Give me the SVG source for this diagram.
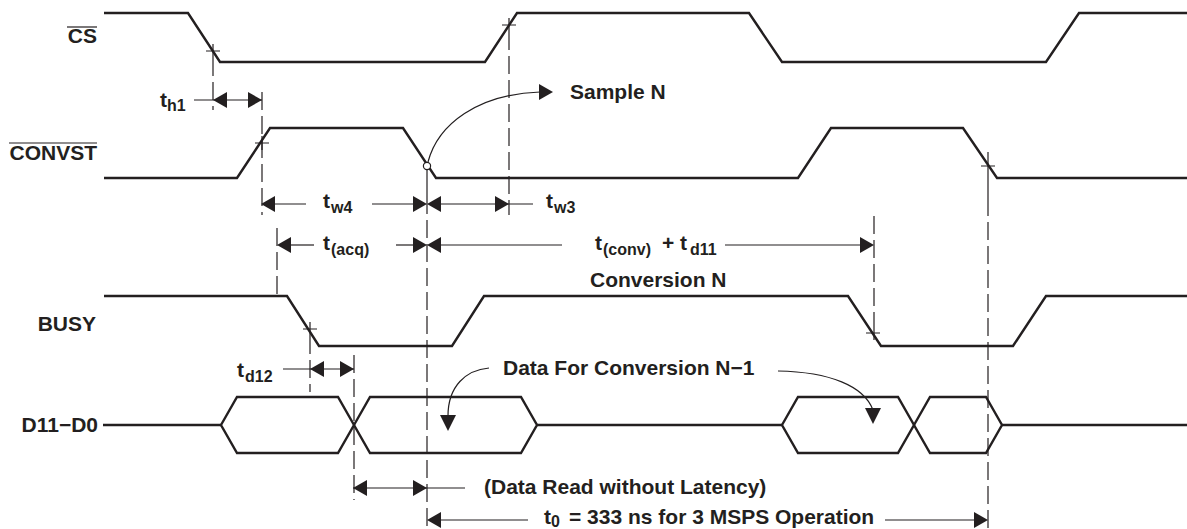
<svg xmlns="http://www.w3.org/2000/svg" xmlns:xlink="http://www.w3.org/1999/xlink" width="1187" height="529" viewBox="0 0 1187 529">
<style>
.sig{fill:none;stroke:#231f20;stroke-width:2.4;stroke-linejoin:miter}
.hex{fill:none;stroke:#231f20;stroke-width:2.4;stroke-linejoin:miter}
.thin{fill:none;stroke:#231f20;stroke-width:1.2}
.dash{fill:none;stroke:#231f20;stroke-width:1.2;stroke-dasharray:18 6}
.ah{fill:#231f20}
text{font-family:"Liberation Sans",Arial,sans-serif;font-weight:bold;fill:#231f20}
.lbl{font-size:21px}
.sub{font-size:16px}
</style>
<defs>
<path id="ahR" class="ah" d="M0,0 L-14,-8 L-14,8 Z"/>
<path id="ahL" class="ah" d="M0,0 L14,-8 L14,8 Z"/>
<path id="ahD" class="ah" d="M0,0 L-8,-16 L8,-16 Z"/>
</defs>
<rect width="1187" height="529" fill="#ffffff"/>

<g id="sig-cs">
<text class="lbl" x="97" y="43" text-anchor="end">CS</text>
<line class="thin" x1="67" y1="27" x2="97" y2="27" stroke-width="1.6"/>
<path class="sig" d="M104,13 H188 L220,62 H485 L517,13 H749 L782,62 H1046 L1079,13 H1187"/>
</g>

<g id="sig-convst">
<text class="lbl" x="97" y="160" text-anchor="end">CONVST</text>
<line class="thin" x1="9" y1="143" x2="97" y2="143" stroke-width="1.6"/>
<path class="sig" d="M104,178 H237 L270,128 H403 L436,178 H798 L831,128 H963 L997,178 H1187"/>
</g>

<g id="sig-busy">
<text class="lbl" x="96" y="331" text-anchor="end">BUSY</text>
<path class="sig" d="M104,296 H287 L319,346 H452 L484,296 H848 L881,346 H1013 L1046,296 H1187"/>
</g>

<g id="sig-data">
<text class="lbl" x="98" y="432" text-anchor="end">D11−D0</text>
<path class="sig" d="M103,425 H221 M537,425 H782 M1002,425 H1187"/>
<polygon class="hex" points="221,425 237,397 338,397 354,425 338,453 237,453"/>
<polygon class="hex" points="354,425 370,397 521,397 537,425 521,453 370,453"/>
<polygon class="hex" points="782,425 798,397 898,397 914,425 898,453 798,453"/>
<polygon class="hex" points="914,425 930,397 986,397 1002,425 986,453 930,453"/>
</g>

<g id="connectors">
<path class="thin" d="M213,44 V58 M206,51 H220"/>
<line class="dash" x1="213" y1="58" x2="213" y2="110"/>
<path class="thin" d="M255,143 H269 M262,136 V150"/>
<line class="dash" x1="262" y1="92" x2="262" y2="215"/>
<path class="thin" d="M502,25 H516 M509,18 V32"/>
<line class="dash" x1="509" y1="32" x2="509" y2="215"/>
<line class="dash" x1="277" y1="228" x2="277" y2="296"/>
<line class="thin" x1="427" y1="170" x2="427" y2="196"/>
<line class="dash" x1="427" y1="196" x2="427" y2="529"/>
<path class="thin" d="M303,329 H317 M310,322 V336"/>
<line class="dash" x1="310" y1="336" x2="310" y2="392"/>
<line class="dash" x1="354" y1="355" x2="354" y2="500"/>
<line class="dash" x1="874" y1="216" x2="874" y2="326"/>
<path class="thin" d="M866,333 H880 M874,326 V340"/>
<path class="thin" d="M981,166 H995 M988,152 V198"/>
<line class="dash" x1="988" y1="198" x2="988" y2="529"/>

<line class="thin" x1="194" y1="100" x2="262" y2="100"/>
<use xlink:href="#ahL" x="213" y="100"/>
<use xlink:href="#ahR" x="262" y="100"/>

<line class="thin" x1="270" y1="204" x2="306" y2="204"/>
<line class="thin" x1="372" y1="204" x2="420" y2="204"/>
<use xlink:href="#ahL" x="261" y="204"/>
<use xlink:href="#ahR" x="427" y="204"/>
<line class="thin" x1="434" y1="204" x2="533" y2="204"/>
<use xlink:href="#ahL" x="427" y="204"/>
<use xlink:href="#ahR" x="509" y="204"/>

<line class="thin" x1="285" y1="245" x2="314" y2="245"/>
<use xlink:href="#ahL" x="277" y="245"/>
<line class="thin" x1="396" y1="245" x2="420" y2="245"/>
<use xlink:href="#ahR" x="427" y="245"/>
<line class="thin" x1="434" y1="245" x2="562" y2="245"/>
<use xlink:href="#ahL" x="427" y="245"/>
<line class="thin" x1="725" y1="245" x2="866" y2="245"/>
<use xlink:href="#ahR" x="874" y="245"/>

<line class="thin" x1="283" y1="369" x2="354" y2="369"/>
<use xlink:href="#ahL" x="310" y="369"/>
<use xlink:href="#ahR" x="354" y="369"/>

<line class="thin" x1="353" y1="488" x2="465" y2="488"/>
<use xlink:href="#ahL" x="353" y="488"/>
<use xlink:href="#ahR" x="427" y="488"/>

<line class="thin" x1="434" y1="520" x2="528" y2="520"/>
<use xlink:href="#ahL" x="427" y="520"/>
<line class="thin" x1="885" y1="520" x2="980" y2="520"/>
<use xlink:href="#ahR" x="988" y="520"/>

<path class="thin" d="M428,162 C438,124 478,94 540,92"/>
<use xlink:href="#ahR" x="553" y="92"/>
<circle cx="427" cy="166" r="3.6" fill="#ffffff" stroke="#231f20" stroke-width="1.2"/>

<path class="thin" d="M489,368 C466,370 448,386 448,416"/>
<use xlink:href="#ahD" x="448" y="431"/>
<path class="thin" d="M778,371 C830,372 864,386 873,410"/>
<use xlink:href="#ahD" x="873" y="424"/>
</g>

<g id="labels">
<text class="lbl" x="160" y="107">t<tspan class="sub" x="167" y="111">h1</tspan></text>
<text class="lbl" x="323" y="208">t<tspan class="sub" x="331" y="213">w4</tspan></text>
<text class="lbl" x="546" y="208">t<tspan class="sub" x="554" y="213">w3</tspan></text>
<text class="lbl" x="323" y="250">t<tspan class="sub" x="331" y="255">(acq)</tspan></text>
<text class="lbl" x="595" y="250">t<tspan class="sub" x="603" y="255">(conv)</tspan><tspan x="662" y="250">+ t</tspan><tspan class="sub" x="690" y="255">d11</tspan></text>
<text class="lbl" x="237" y="377">t<tspan class="sub" x="245" y="382">d12</tspan></text>
<text class="lbl" x="570" y="99">Sample N</text>
<text class="lbl" x="590" y="287">Conversion N</text>
<text class="lbl" x="503" y="375">Data For Conversion N−1</text>
<text class="lbl" x="484" y="494">(Data Read without Latency)</text>
<text class="lbl" x="544" y="524">t<tspan class="sub" x="551" y="527">0</tspan><tspan x="569" y="524">= 333 ns for 3 MSPS Operation</tspan></text>
</g>
</svg>
